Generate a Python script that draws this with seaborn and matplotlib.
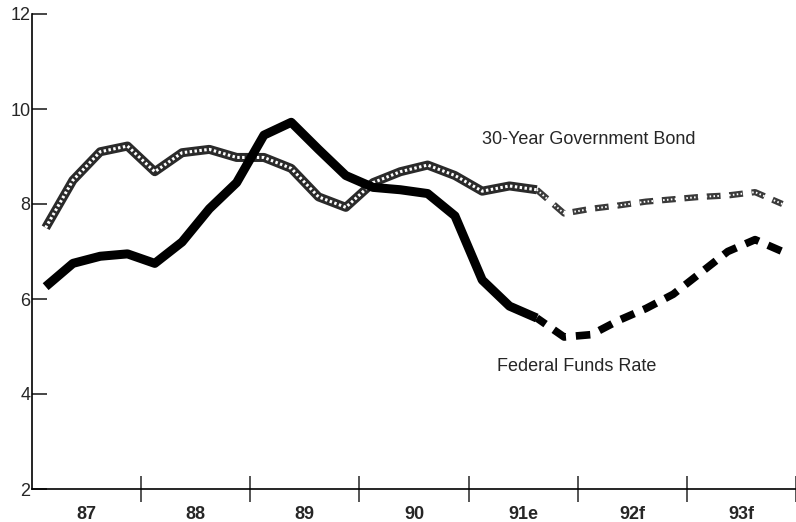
import matplotlib
matplotlib.use("Agg")
import numpy as np
import pandas as pd
import matplotlib.pyplot as plt
import seaborn as sns

# quarterly observations, 1987 Q1 .. 1993 Q4
years = [1987, 1988, 1989, 1990, 1991, 1992, 1993]
year_labels = ["87", "88", "89", "90", "91e", "92f", "93f"]

fed_funds = [6.26, 6.75, 6.90, 6.95, 6.75, 7.20, 7.90, 8.45,
             9.45, 9.72, 9.15, 8.60, 8.35, 8.30, 8.22, 7.75,
             6.40, 5.85, 5.60, 5.20, 5.25, 5.55, 5.80, 6.10,
             6.55, 7.00, 7.25, 7.00]
bond_30yr = [7.50, 8.50, 9.10, 9.22, 8.68, 9.08, 9.15, 8.98,
             8.98, 8.75, 8.15, 7.93, 8.45, 8.68, 8.82, 8.60,
             8.27, 8.38, 8.30, 7.80, 7.90, 7.97, 8.05, 8.10,
             8.15, 8.18, 8.25, 8.00]
forecast_start = 18  # index where the estimate/forecast (broken line) begins

quarters = [y + (q - 0.5) / 4 for y in years for q in range(1, 5)]
df = pd.DataFrame({"t": quarters, "fed": fed_funds, "bond": bond_30yr})
hist = df.iloc[:forecast_start + 1]
fcst = df.iloc[forecast_start:]

sns.set_style("white")
plt.rcParams["font.family"] = ["Liberation Sans", "DejaVu Sans"]

fig = plt.figure(figsize=(7.96, 5.22), dpi=100)
ax = fig.add_axes([32 / 796, 33 / 522, 1 - 32 / 796, 475 / 522])

# 30-year bond: hatched band (dark edge with light dots), broken for forecast
sns.lineplot(data=hist, x="t", y="bond", ax=ax, color="#2a2a2a", lw=6.5,
             solid_capstyle="butt", solid_joinstyle="round")
sns.lineplot(data=hist, x="t", y="bond", ax=ax, color="white", lw=2.2,
             linestyle=(0, (0.8, 0.8)))
sns.lineplot(data=fcst, x="t", y="bond", ax=ax, color="#3a3a3a", lw=4.5,
             linestyle=(0, (2.2, 1.4)))
sns.lineplot(data=fcst, x="t", y="bond", ax=ax, color="white", lw=1.4,
             linestyle=(0, (0.8, 1.2)))

# federal funds rate: heavy solid, dashed for forecast
sns.lineplot(data=hist, x="t", y="fed", ax=ax, color="black", lw=6.5,
             solid_capstyle="butt", solid_joinstyle="round")
sns.lineplot(data=fcst, x="t", y="fed", ax=ax, color="black", lw=5.5,
             linestyle=(0.5, (1.9, 1.3)))

ax.text(1991.12, 9.36, "30-Year Government Bond", fontsize=13, va="center")
ax.text(1991.26, 4.57, "Federal Funds Rate", fontsize=13, va="center")

ax.set_xlim(1987, 1994)
ax.set_ylim(2, 12)
ax.set_xlabel("")
ax.set_ylabel("")

ax.set_yticks([2, 4, 6, 8, 10, 12])
ax.set_yticklabels(["2", "4", "6", "8", "10", "12"], fontsize=13)
ax.tick_params(axis="y", direction="in", length=11, width=1.2, pad=1,
               left=True)

ax.set_xticks(years[1:] + [1994])
ax.set_xticklabels([])
ax.set_xticks([y + 0.5 for y in years], minor=True)
ax.set_xticklabels(year_labels, minor=True, fontsize=13, fontweight="bold")
ax.tick_params(axis="x", which="major", direction="inout", length=19,
               width=1.1, bottom=True)
ax.tick_params(axis="x", which="minor", length=0, pad=12)

for side in ["top", "right"]:
    ax.spines[side].set_visible(False)
for side in ["left", "bottom"]:
    ax.spines[side].set_linewidth(1.2)
    ax.spines[side].set_color("black")

fig.savefig("out.png", dpi=100)
